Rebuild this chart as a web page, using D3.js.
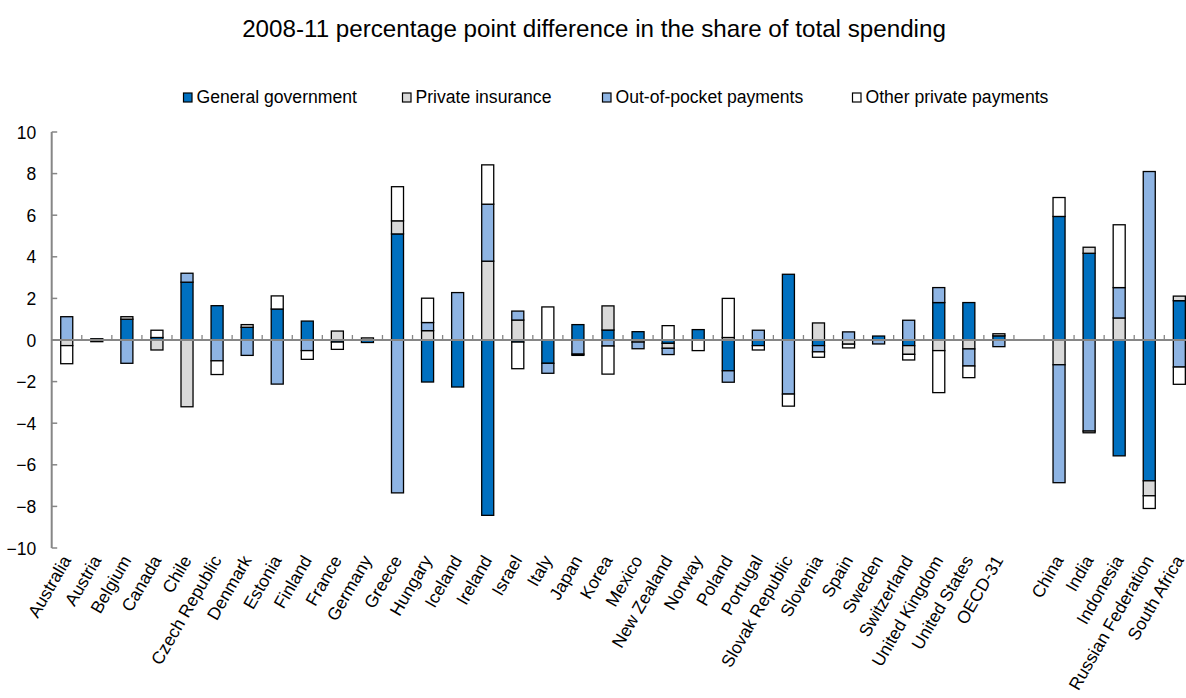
<!DOCTYPE html>
<html><head><meta charset="utf-8">
<script src="https://cdn.jsdelivr.net/npm/d3@7/dist/d3.min.js"></script>
<style>
body{margin:0;background:#fff;}
text{font-family:"Liberation Sans",Arial,sans-serif;fill:#000;}
</style></head>
<body><svg id="c" width="1186" height="698"></svg>
<script>
const title = "2008-11 percentage point difference in the share of total spending";
const categories = ["Australia","Austria","Belgium","Canada","Chile","Czech Republic","Denmark","Estonia","Finland","France","Germany","Greece","Hungary","Iceland","Ireland","Israel","Italy","Japan","Korea","Mexico","New Zealand","Norway","Poland","Portugal","Slovak Republic","Slovenia","Spain","Sweden","Switzerland","United Kingdom","United States","OECD-31","gap","China","India","Indonesia","Russian Federation","South Africa"];
const seriesNames = ["General government","Private insurance","Out-of-pocket payments","Other private payments"];
const generalGovernment = [0,0.06,1.0,0.12,2.78,1.65,0.61,1.49,0.91,-0.1,-0.12,5.1,-2.02,-2.26,-8.43,-0.1,-1.12,0.74,0.48,0.4,-0.16,0.5,-1.48,-0.27,3.16,-0.27,0,0.19,-0.27,1.8,1.8,0.2,0,5.94,4.17,-5.57,-6.77,1.89];
const privateInsurance = [-0.27,0,0.12,-0.48,-3.21,0,0.13,0,0,0.43,0.1,0.63,0.45,0,3.79,0.96,0,0,1.16,-0.1,-0.24,0,0.12,0,0,0.82,-0.2,0,-0.42,-0.51,-0.43,0.1,0,-1.19,0.29,1.06,-0.72,0.22];
const outOfPocket = [1.12,-0.08,-1.12,0,0.43,-1.0,-0.74,-2.12,-0.51,0,0,-7.35,0.39,2.28,2.74,0.43,-0.48,-0.68,-0.29,-0.32,-0.3,0,-0.55,0.47,-2.6,-0.3,0.39,-0.19,0.95,0.72,-0.82,-0.32,0,-5.67,-4.38,1.46,8.1,-1.3];
const otherPrivate = [-0.87,0,0,0.35,0,-0.66,0,0.63,-0.42,-0.35,0,1.64,1.17,0,1.89,-1.28,1.59,-0.06,-1.35,0,0.69,-0.51,1.88,-0.21,-0.58,-0.26,-0.18,0,-0.27,-2.02,-0.56,0,0,0.91,-0.08,3.02,-0.61,-0.83];
const yTicks = [-10,-8,-6,-4,-2,0,2,4,6,8,10];
const colors = ["#0070C0","#D9D9D9","#8EB4E3","#FFFFFF"];

const svg = d3.select("#c");
const x0 = 51.7, bandW = 30.07;
const x = d3.scaleBand().domain(categories).range([x0, x0 + bandW*categories.length]).paddingInner(0.6).paddingOuter(0.3);
const y = d3.scaleLinear().domain([-10,10]).range([548,132]);

const rows = categories.map((c,i)=>({cat:c, "General government":generalGovernment[i], "Private insurance":privateInsurance[i], "Out-of-pocket payments":outOfPocket[i], "Other private payments":otherPrivate[i]}));
const stacked = d3.stack().keys(seriesNames).offset(d3.stackOffsetDiverging)(rows);

// title
svg.append("text").attr("x",594).attr("y",37).attr("text-anchor","middle").style("font-size","24.2px").text(title);

// legend
const legX = [183,402,602,852];
const lg = svg.append("g");
seriesNames.forEach((s,i)=>{
  lg.append("rect").attr("x",legX[i]+0.5).attr("y",93).attr("width",8.5).attr("height",9).attr("fill",colors[i]).attr("stroke","#000").attr("stroke-width",1.2);
  lg.append("text").attr("x",legX[i]+13.5).attr("y",102.5).style("font-size","17.6px").text(s);
});

// bars
const bars = svg.append("g");
stacked.forEach((ser,si)=>{
  bars.selectAll(null).data(ser.filter(d=>d[1]-d[0]!==0 && d.data.cat!=="gap")).enter().append("rect")
    .attr("x",d=>x(d.data.cat))
    .attr("width",x.bandwidth())
    .attr("y",d=>y(Math.max(d[0],d[1])))
    .attr("height",d=>Math.abs(y(d[0])-y(d[1])))
    .attr("fill",colors[si]).attr("stroke","#000").attr("stroke-width",1.3);
});

// y axis
const yAxis = d3.axisLeft(y).tickValues(yTicks).tickSize(0).tickPadding(0).tickFormat(d3.format("d"));
const yg = svg.append("g").attr("transform",`translate(${x0},0)`).call(yAxis);
yg.select(".domain").remove();
yg.selectAll("text").attr("x",-15.5).attr("dy","0.35em").style("font-size","17.5px").style("font-family","Liberation Sans, Arial, sans-serif");
svg.append("line").attr("x1",x0).attr("x2",x0).attr("y1",y(10)).attr("y2",y(-10)).attr("stroke","#868686").attr("stroke-width",2);
yTicks.forEach(t=>{
  svg.append("line").attr("x1",x0).attr("x2",x0+5.5).attr("y1",y(t)).attr("y2",y(t)).attr("stroke","#868686").attr("stroke-width",1.5);
});

// x axis (zero line)
svg.append("line").attr("x1",x0).attr("x2",1186).attr("y1",y(0)).attr("y2",y(0)).attr("stroke","#868686").attr("stroke-width",2);
for(let i=1;i<categories.length;i++){
  const tx = x0 + i*bandW;
  svg.append("line").attr("x1",tx).attr("x2",tx).attr("y1",y(0)).attr("y2",y(0)-5).attr("stroke","#868686").attr("stroke-width",1.3);
}

// category labels
const lab = svg.append("g");
categories.forEach(c=>{
  if(c==="gap") return;
  const cx = x(c) + x.bandwidth()/2;
  lab.append("text").attr("text-anchor","end")
    .attr("transform",`translate(${cx+5},${560}) rotate(-60)`)
    .style("font-size","17.5px").text(c);
});
</script></body></html>
